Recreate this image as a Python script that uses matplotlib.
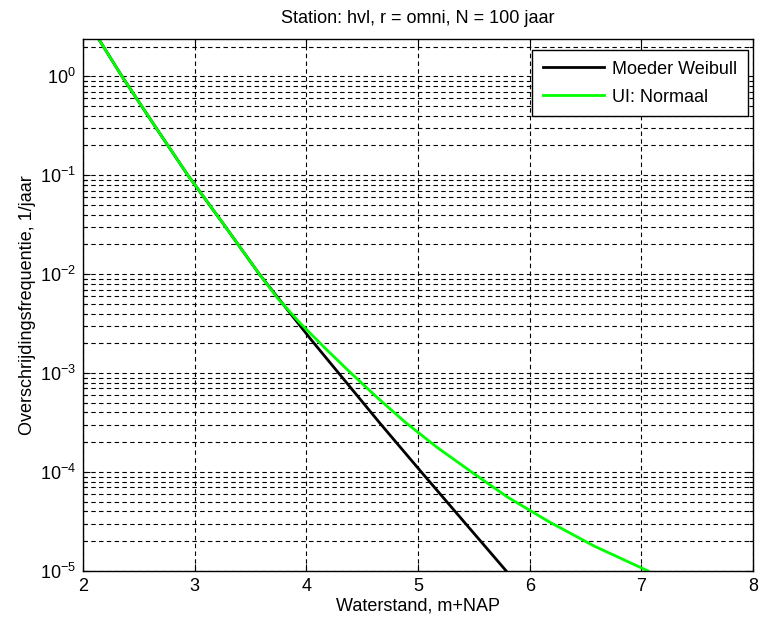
import matplotlib
matplotlib.use("Agg")
import matplotlib.pyplot as plt
import numpy as np

plt.rcParams['font.family'] = ['Liberation Sans', 'DejaVu Sans']
plt.rcParams['mathtext.fontset'] = 'custom'
plt.rcParams['mathtext.rm'] = 'Liberation Sans'

# Moeder Weibull
x_weibull = [2.14, 2.35, 2.64, 2.94, 3.26, 3.58, 3.93, 4.04, 4.29, 4.655, 5.03, 5.41, 5.79]
y_weibull = [2.4, 1.0, 0.32, 0.1, 0.032, 0.01, 3.16e-3, 2.2e-3, 1e-3, 3.16e-4, 1e-4, 3.16e-5, 1e-5]

# UI: Normaal
x_normaal = [2.14, 2.35, 2.64, 2.94, 3.26, 3.58, 3.75, 3.95, 4.17, 4.40, 4.64, 4.89,
             5.17, 5.48, 5.80, 6.17, 6.58, 7.06]
y_normaal = [2.4, 1.0, 0.32, 0.1, 0.032, 0.01, 5.6e-3, 3.16e-3, 1.78e-3, 1e-3, 5.6e-4, 3.16e-4,
             1.78e-4, 1e-4, 5.6e-5, 3.16e-5, 1.78e-5, 1e-5]

xticks = [2, 3, 4, 5, 6, 7, 8]

fig = plt.figure(figsize=(7.6, 6.27), dpi=100)
ax = fig.add_axes([0.109, 0.0893, 0.882, 0.849])

ax.plot(x_weibull, y_weibull, color='black', lw=2, label='Moeder Weibull')
ax.plot(x_normaal, y_normaal, color=(0, 1, 0), lw=2, label='UI: Normaal')

ax.set_yscale('log')
ax.set_xlim(2, 8)
ax.set_ylim(1e-5, 2.4)
ax.set_xticks(xticks)
ax.set_yticks([1e-5, 1e-4, 1e-3, 1e-2, 1e-1, 1e0])

ax.grid(True, which='major', axis='x', color='black', ls=(0, (4, 3)), lw=0.8)
ax.grid(True, which='both', axis='y', color='black', ls=(0, (4, 3)), lw=0.8)

ax.tick_params(which='both', direction='in', top=True, right=True, labelsize=13, colors='black')
ax.tick_params(which='major', length=5, width=0.8, pad=5)
ax.tick_params(which='minor', length=3, width=0.8)
ax.minorticks_on()
ax.xaxis.set_minor_locator(matplotlib.ticker.NullLocator())
for s in ax.spines.values():
    s.set_linewidth(1)

ax.set_title('Station: hvl, r = omni, N = 100 jaar', fontsize=13, pad=11)
ax.set_xlabel('Waterstand, m+NAP', fontsize=13, labelpad=2)
ax.set_ylabel('Overschrijdingsfrequentie, 1/jaar', fontsize=13, labelpad=3)

leg = ax.legend(loc='upper right', bbox_to_anchor=(0.9925, 0.979), borderaxespad=0,
                fontsize=13, fancybox=False, framealpha=1, edgecolor='black',
                handlelength=3.4, handletextpad=0.45, borderpad=0.6, labelspacing=0.6)
leg.get_frame().set_linewidth(1)

fig.savefig('out.png', dpi=100)
